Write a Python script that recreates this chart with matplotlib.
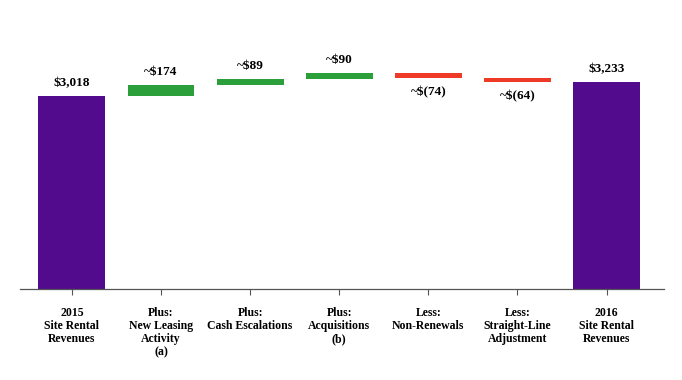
import matplotlib.pyplot as plt
import numpy as np

plt.rcParams['font.family'] = ['Liberation Serif', 'DejaVu Serif']
plt.rcParams['font.weight'] = 'bold'

categories = ['2015\nSite Rental\nRevenues',
              'Plus:\nNew Leasing\nActivity\n(a)',
              'Plus:\nCash Escalations',
              'Plus:\nAcquisitions\n(b)',
              'Less:\nNon-Renewals',
              'Less:\nStraight-Line\nAdjustment',
              '2016\nSite Rental\nRevenues']
values = [3018, 174, 89, 90, -74, -64, 3233]
labels = ['$3,018', '~$174', '~$89', '~$90', '~$(74)', '~$(64)', '$3,233']
kinds = ['total', 'step', 'step', 'step', 'step', 'step', 'total']

purple = '#520B8C'
green = '#2BA03A'
red = '#EF3A28'

fig = plt.figure(figsize=(6.82, 3.8), dpi=100)
ax = fig.add_axes([0.029, 0.239, 0.944, 0.708])

x = np.arange(len(values))
running = 0
for i, (v, k) in enumerate(zip(values, kinds)):
    if k == 'total':
        bottom, height, col = 0, v, purple
        running = v
    else:
        bottom = running if v > 0 else running + v
        height = abs(v)
        col = green if v > 0 else red
        running += v
    ax.bar(x[i], height, bottom=bottom, width=0.75, color=col)
    if v >= 0:
        ax.annotate(labels[i], (x[i], bottom + height), xytext=(0, 9.5),
                    textcoords='offset points', ha='center', va='center',
                    fontsize=9.5, fontweight='bold')
    else:
        ax.annotate(labels[i], (x[i], bottom), xytext=(0, -10.5),
                    textcoords='offset points', ha='center', va='center',
                    fontsize=9.5, fontweight='bold')

ax.set_xlim(-0.585, 6.64)
ax.set_ylim(0, 4200)
ax.set_xticks(x)
ax.set_xticklabels(categories, fontsize=8.5, fontweight='bold', linespacing=1.1, va='top')
ax.tick_params(axis='x', length=4, width=0.8, color='#555555', pad=9)
ax.set_yticks([])
for s in ['top', 'right', 'left']:
    ax.spines[s].set_visible(False)
ax.spines['bottom'].set_color('#555555')
ax.spines['bottom'].set_linewidth(0.9)

fig.savefig('out.png', dpi=100)
